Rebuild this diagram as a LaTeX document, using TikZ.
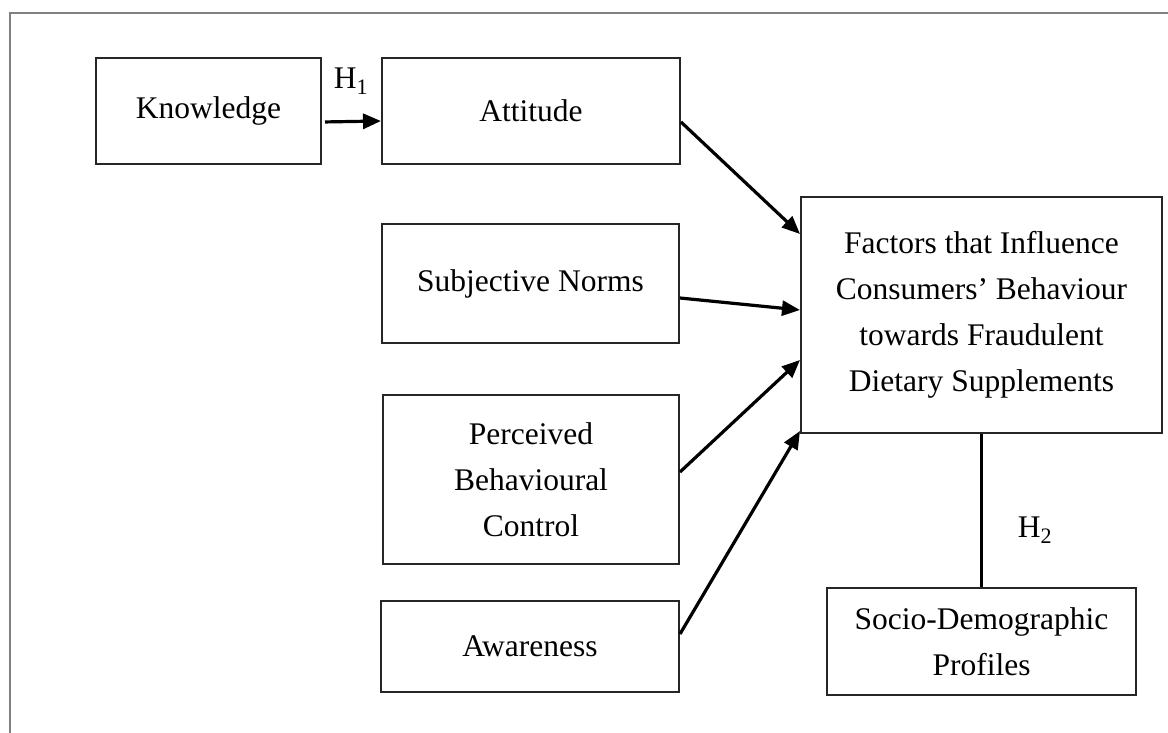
\documentclass[tikz,border=0pt]{standalone}
\usepackage{fontspec}
\setmainfont{Liberation Serif}
\usepackage{tikz}
\usetikzlibrary{arrows.meta}
\tikzset{every picture/.style={line width=2pt}}
\tikzset{
  construct/.style={draw=black!85, inner sep=0pt, align=center,
    font=\fontsize{31.5}{46}\selectfont},
  link/.style={line width=3.2pt, -{Triangle[length=18pt,width=15pt]}},
  hyp/.style={font=\fontsize{31.5}{46}\selectfont}
}

\begin{document}
\begin{tikzpicture}[x=1pt, y=-1pt]
\useasboundingbox (0,0) rectangle (1168,733);
\draw[black!50, line width=2pt] (10,733) -- (10,13) -- (1168,13);
%
\node[construct, minimum width=225pt, minimum height=106pt] (knowledge) at (208.5,111) {Knowledge};
\node[construct, minimum width=298pt, minimum height=106pt] (attitude) at (531,111) {Attitude};
\node[construct, minimum width=297pt, minimum height=119pt] (norms) at (530.5,283.5) {Subjective Norms};
\node[construct, minimum width=296pt, minimum height=169pt] (control) at (531,479.5) {Perceived\\Behavioural\\Control};
\node[construct, minimum width=298pt, minimum height=91pt] (awareness) at (530,646.5) {Awareness};
%
\node[construct, minimum width=361pt, minimum height=236pt] (factors) at (981.5,315) {Factors that Influence\\Consumers' Behaviour\\towards Fraudulent\\Dietary Supplements};
\node[construct, minimum width=309pt, minimum height=107pt] (socio) at (981.5,641.5) {Socio-Demographic\\Profiles};
%
\node[hyp] (h1) at (351,81) {H\textsubscript{1}};
\node[hyp] (h2) at (1035,530) {H\textsubscript{2}};
%
\draw[link, shorten <=3pt] ([yshift=-11pt]knowledge.east) -- ([yshift=-10pt]attitude.west);
\foreach \Source/\Sshift/\Tshift in {%
        attitude/-11/81,
        norms/-14.5/5,
        control/7.5/-45,
        awareness/12.5/-116%
    }
\draw[link] ([yshift=\Sshift pt]\Source.east) -- ([yshift=\Tshift pt]factors.west);
%
\draw[line width=3.2pt] (factors.south) -- (socio.north);
\end{tikzpicture}
\end{document}
